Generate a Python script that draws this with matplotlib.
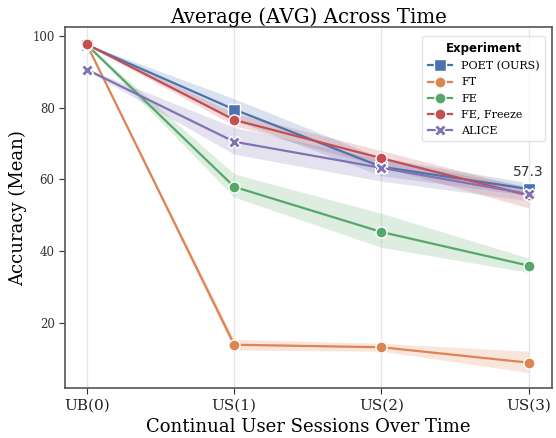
import matplotlib
matplotlib.use("Agg")
import matplotlib.pyplot as plt
import numpy as np

sessions = ["UB(0)", "US(1)", "US(2)", "US(3)"]
methods = ["POET (OURS)", "FT", "FE", "FE, Freeze", "ALICE"]
means = {
    "POET (OURS)": [97.5, 79.5, 63.5, 57.3],
    "FT":          [97.5, 13.8, 13.1, 8.8],
    "FE":          [97.5, 57.9, 45.3, 35.9],
    "FE, Freeze":  [97.7, 76.6, 65.9, 55.5],
    "ALICE":       [90.6, 70.5, 63.2, 55.9],
}
lower = {
    "POET (OURS)": [97.3, 76.5, 61.0, 55.5],
    "FT":          [97.3, 12.3, 12.0, 6.0],
    "FE":          [97.3, 55.0, 41.0, 34.0],
    "FE, Freeze":  [97.5, 75.0, 63.5, 52.0],
    "ALICE":       [90.3, 67.0, 59.5, 54.0],
}
upper = {
    "POET (OURS)": [97.7, 82.5, 66.0, 59.0],
    "FT":          [97.7, 15.3, 14.2, 12.0],
    "FE":          [97.7, 61.5, 50.5, 38.0],
    "FE, Freeze":  [97.9, 78.5, 68.0, 57.5],
    "ALICE":       [90.9, 74.5, 65.5, 58.0],
}
colors = {
    "POET (OURS)": "#4C72B0",
    "FT": "#DD8452",
    "FE": "#55A868",
    "FE, Freeze": "#C44E52",
    "ALICE": "#8172B3",
}
markers = {"POET (OURS)": "s", "FT": "o", "FE": "o", "FE, Freeze": "o", "ALICE": "X"}

plt.rcParams["font.family"] = ["DejaVu Serif"]

fig = plt.figure(figsize=(5.56, 4.38), dpi=100)
ax = fig.add_axes([0.117, 0.114, 0.876, 0.824])

x = np.arange(len(sessions))
for m in methods:
    c = colors[m]
    ax.fill_between(x, lower[m], upper[m], color=c, alpha=0.2, linewidth=0)
    ax.plot(x, means[m], color=c, marker=markers[m], markersize=8 if markers[m] != "X" else 9,
            markeredgecolor="white", markeredgewidth=1.0, linewidth=1.6, label=m)

ax.annotate(f"{means['POET (OURS)'][-1]:.1f}", (x[-1], means['POET (OURS)'][-1]),
            xytext=(0, 7), textcoords="offset points", ha="center", va="bottom",
            fontsize=10, family="DejaVu Sans", color="#333333")

ax.set_xlim(-0.15, 3.16)
ax.set_ylim(1.7, 102.5)
ax.set_xticks(x)
ax.set_xticklabels(sessions, fontsize=11)
ax.set_yticks([20, 40, 60, 80, 100])
ax.tick_params(axis="y", labelsize=8.5, colors="#333333", length=4)
ax.tick_params(axis="x", colors="#333333", length=4)
for lbl in ax.get_xticklabels():
    lbl.set_color("#222222")
ax.grid(axis="x", color="#e6e6e6", linewidth=1)
ax.set_axisbelow(True)
for s in ax.spines.values():
    s.set_color("#555555")
    s.set_linewidth(1.2)

ax.set_title("Average (AVG) Across Time", fontsize=14.2, pad=3)
ax.set_xlabel("Continual User Sessions Over Time", fontsize=13)
ax.set_ylabel("Accuracy (Mean)", fontsize=13)

leg = ax.legend(title="Experiment", loc="upper right", fontsize=8, frameon=True,
                fancybox=True, edgecolor="#dddddd", borderpad=0.5, labelspacing=0.55,
                handlelength=2.2, markerscale=1.0, bbox_to_anchor=(0.997, 0.99))
leg.get_title().set_fontfamily("DejaVu Sans")
leg.get_title().set_fontweight("bold")
leg.get_title().set_fontsize(8.5)

fig.savefig("out.png", dpi=100)
